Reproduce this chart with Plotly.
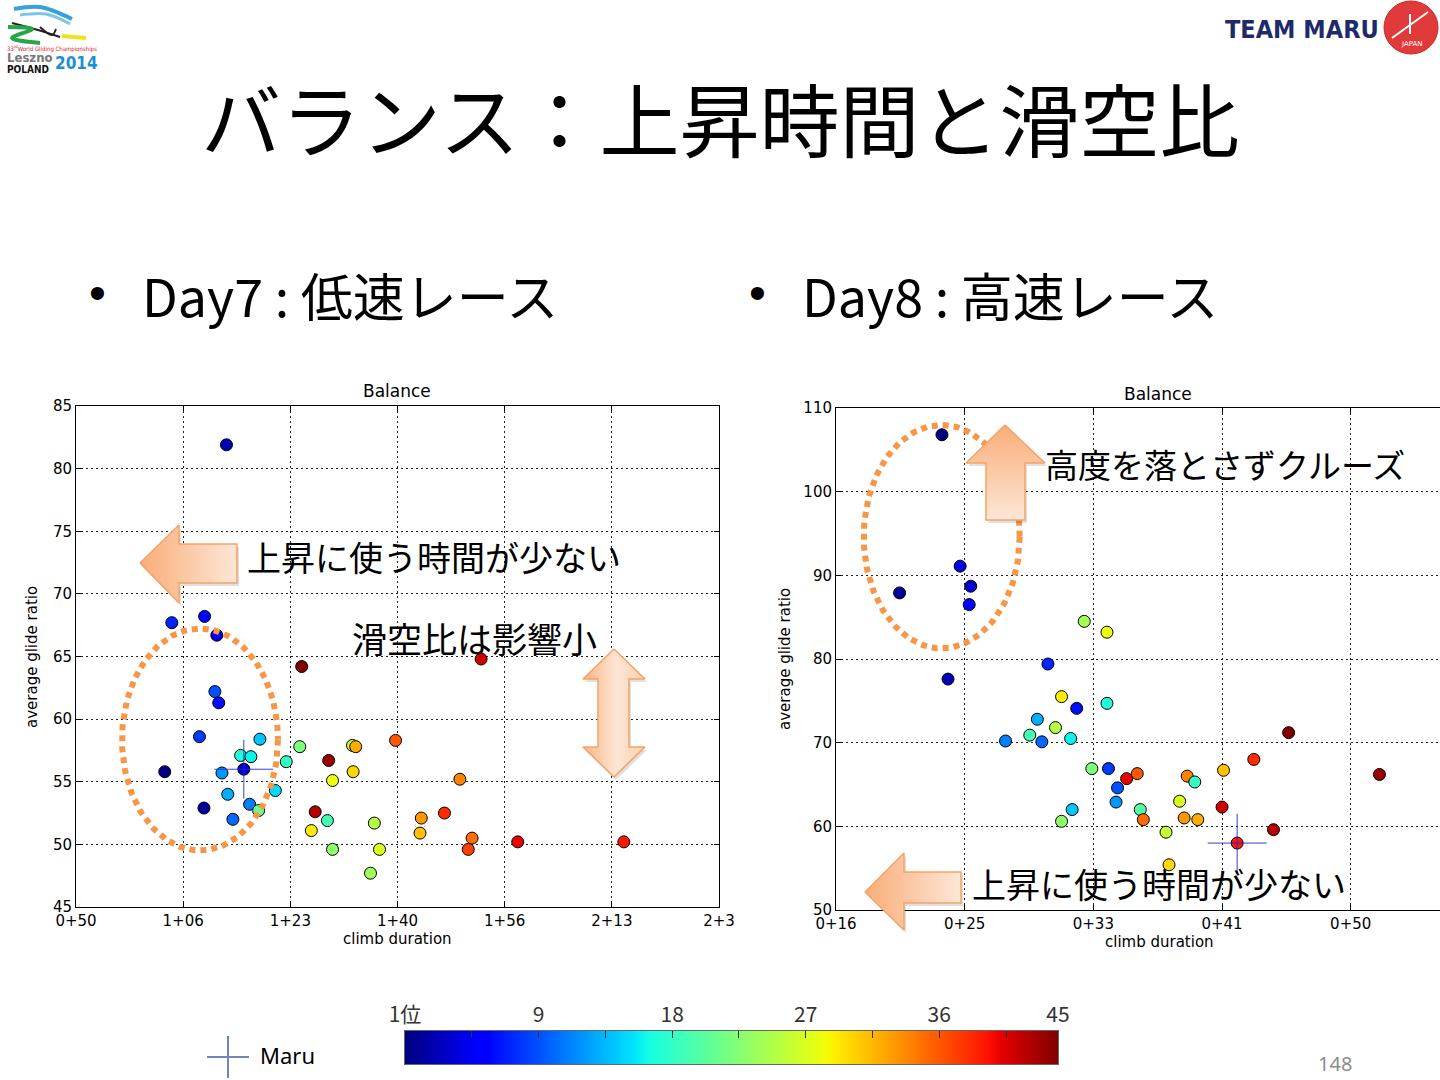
import numpy as np
import plotly.graph_objects as go

W, H = 1440, 1080
JP = "Noto Sans CJK JP"
MPL = "DejaVu Sans"

# ---- Day7: 低速レース (climb duration [min], average glide ratio, 順位) ----
day7_climb = [73.4, 64.9, 70.0, 71.9, 85.1, 71.6, 72.2, 69.2, 78.6, 84.8,
              75.6, 77.2, 82.7, 89.3, 93.0, 93.5, 99.7, 63.8, 72.7, 76.1,
              93.1, 89.9, 81.0, 73.6, 69.9, 77.0, 78.4, 74.4, 87.2, 89.1,
              86.6, 96.4, 89.9, 97.2, 95.8, 113.0, 109.7, 107.3, 103.7, 103.5,
              111.6, 111.0, 118.7, 135.2]
day7_glide = [81.9, 67.7, 68.2, 66.7, 64.2, 62.2, 61.3, 58.6, 58.4, 57.8,
              57.1, 57.0, 56.6, 56.7, 57.9, 57.8, 58.3, 55.8, 55.7, 56.0,
              55.8, 55.1, 54.3, 54.0, 52.9, 53.2, 52.7, 52.0, 52.6, 51.9,
              51.1, 51.7, 49.6, 49.6, 47.7, 64.8, 55.2, 52.5, 52.1, 50.9,
              50.5, 49.6, 50.2, 50.2]
day7_rank = [3, 8, 6, 5, 45, 10, 7, 9, 15, 23,
             18, 17, 19, 44, 27, 33, 37, 1, 13, 4,
             31, 29, 16, 14, 2, 12, 22, 11, 43, 20,
             30, 26, 24, 28, 25, 42, 35, 39, 34, 32,
             36, 38, 41, 40]

# ---- Day8: 高速レース ----
day8_climb = [23.0, 20.2, 24.2, 24.9, 24.8, 23.4, 30.0, 32.4, 33.9, 30.9,
              31.9, 33.9, 29.3, 30.5, 28.8, 27.2, 29.6, 31.5, 32.9, 34.0,
              35.2, 35.9, 34.6, 34.5, 31.6, 30.9, 36.1, 36.3, 37.8, 38.0,
              38.7, 39.0, 39.9, 39.2, 39.7, 41.6, 41.5, 43.6, 45.9, 44.9,
              42.5, 51.9]
day8_glide = [106.8, 87.9, 91.1, 88.7, 86.5, 77.6, 79.4, 84.5, 83.2, 75.5,
              74.1, 74.7, 72.8, 71.8, 70.9, 70.2, 70.1, 70.5, 66.9, 66.9,
              65.7, 66.3, 64.6, 62.9, 62.0, 60.6, 62.0, 60.8, 59.3, 55.4,
              63.0, 61.0, 60.8, 66.0, 65.3, 66.7, 62.3, 68.0, 71.2, 59.6,
              58.0, 66.2]
day8_rank = [1, 2, 5, 4, 6, 3, 8, 25, 29, 30,
             7, 18, 14, 26, 20, 12, 11, 17, 23, 9,
             41, 37, 10, 13, 15, 24, 21, 36, 27, 31,
             28, 34, 33, 35, 19, 32, 42, 39, 45, 43,
             40, 44]

# Maru の位置
maru_climb = [76.1, 42.5]
maru_glide = [56.0, 58.0]

# 軸目盛り
day7_xticks = [50, 66.667, 83.333, 100, 116.667, 133.333, 150]
day7_xlabels = ["0+50", "1+06", "1+23", "1+40", "1+56", "2+13", "2+3"]
day8_xticks = [16, 24.5, 33, 41.5, 50]
day8_xlabels = ["0+16", "0+25", "0+33", "0+41", "0+50"]

# カラーバー (順位 0..44 → 1位..45位)
cbar_ranks = list(range(0, 45))
cbar_ticks = [0, 4.5, 9, 13.5, 18, 22.5, 27, 31.5, 36, 40.5, 44]
cbar_labels = ["1位", "", "9", "", "18", "", "27", "", "36", "", "45"]

# matplotlib jet
JET = [[0.0, "rgb(0,0,128)"], [0.11, "rgb(0,0,255)"], [0.125, "rgb(0,0,255)"],
       [0.34, "rgb(0,219,255)"], [0.35, "rgb(0,229,255)"], [0.375, "rgb(21,255,226)"],
       [0.64, "rgb(239,255,8)"], [0.65, "rgb(247,246,0)"], [0.66, "rgb(255,236,0)"],
       [0.89, "rgb(255,19,0)"], [0.91, "rgb(232,0,0)"], [1.0, "rgb(128,0,0)"]]

ORANGE = "#f79646"


def dom_x(a, b):
    return [a / W, b / W]


def dom_y(top, bottom):
    return [1 - bottom / H, 1 - top / H]


fig = go.Figure()

fig.add_trace(go.Scatter(
    x=day7_climb, y=day7_glide, mode="markers", xaxis="x", yaxis="y",
    marker=dict(size=12, color=[r - 1 for r in day7_rank], colorscale=JET,
                cmin=0, cmax=44, line=dict(width=1, color="black")),
    showlegend=False, hoverinfo="skip",
))
fig.add_trace(go.Scatter(
    x=day8_climb, y=day8_glide, mode="markers", xaxis="x2", yaxis="y2",
    marker=dict(size=12, color=[r - 1 for r in day8_rank], colorscale=JET,
                cmin=0, cmax=44, line=dict(width=1, color="black")),
    showlegend=False, hoverinfo="skip",
))
for i, (ax, ay) in enumerate([("x", "y"), ("x2", "y2")]):
    fig.add_trace(go.Scatter(
        x=[maru_climb[i]], y=[maru_glide[i]], mode="markers", xaxis=ax, yaxis=ay,
        marker=dict(symbol="cross-thin", size=42,
                    line=dict(width=1, color="rgba(40,40,200,0.9)")),
        showlegend=False, hoverinfo="skip",
    ))

# カラーバー本体
fig.add_trace(go.Heatmap(
    z=[cbar_ranks], x=cbar_ranks, y=[0], xaxis="x4", yaxis="y4",
    colorscale=JET, zmin=0, zmax=44, zsmooth="best", showscale=False,
    hoverinfo="skip",
))

# ---- 装飾 (楕円・矢印) : ピクセル座標のオーバーレイ軸 x3/y3 ----
t = np.linspace(0, 2 * np.pi, 240)
for cx, cy, rx, ry in [(200, 739.5, 78, 111), (941.7, 536.7, 78, 111.7)]:
    fig.add_trace(go.Scatter(
        x=cx + rx * np.cos(t), y=cy + ry * np.sin(t), mode="lines",
        xaxis="x3", yaxis="y3",
        line=dict(color=ORANGE, width=6, dash="6px,5px"),
        showlegend=False, hoverinfo="skip",
    ))

arrows = [
    # (polygon, gradient type, start, stop)
    ([(140, 563), (179, 525), (179, 544), (237, 544), (237, 583), (179, 583), (179, 603)],
     "horizontal", 140, 237),
    ([(865, 892), (904, 853), (904, 872), (961, 872), (961, 903), (904, 903), (904, 930)],
     "horizontal", 865, 961),
    ([(1005, 425), (1045, 463), (1025, 463), (1025, 520), (986, 520), (986, 463), (966, 463)],
     "vertical", 425, 520),
    ([(614, 649), (645, 679), (629, 679), (629, 747), (645, 747), (614, 777), (583, 747),
      (598, 747), (598, 679), (583, 679)],
     "horizontal", 583, 645),
]
for poly, gtype, start, stop in arrows:
    xs = [p[0] for p in poly] + [poly[0][0]]
    ys = [p[1] for p in poly] + [poly[0][1]]
    # 影
    fig.add_trace(go.Scatter(
        x=[v + 2 for v in xs], y=[v + 3 for v in ys], mode="lines", fill="toself",
        xaxis="x3", yaxis="y3", line=dict(width=0), fillcolor="rgba(0,0,0,0.12)",
        showlegend=False, hoverinfo="skip",
    ))
    if poly[0][0] == 614:
        cs = [[0, "#f9b586"], [0.55, "#fde6d6"], [1, "#fbcfae"]]
    else:
        cs = [[0, "#f9ad78"], [1, "#fde7d7"]]
    fig.add_trace(go.Scatter(
        x=xs, y=ys, mode="lines", fill="toself", xaxis="x3", yaxis="y3",
        line=dict(color="#f6a266", width=1.5),
        fillgradient=dict(type=gtype, colorscale=cs, start=start, stop=stop),
        showlegend=False, hoverinfo="skip",
    ))

# 凡例の十字
fig.add_trace(go.Scatter(
    x=[228], y=[1057], mode="markers", xaxis="x3", yaxis="y3",
    marker=dict(symbol="cross-thin", size=30, line=dict(width=2, color="#6c87b8")),
    showlegend=False, hoverinfo="skip",
))

# 左上ロゴの線
logo_lines = [
    ([14, 40, 72], [9, 7, 19], "#35a2dc", 4),
    ([20, 46, 70], [15, 14, 24], "#7fc4ea", 3),
    ([12, 38, 60], [23, 30, 37], "#222222", 2),
    ([40, 52, 56], [27, 35, 29], "#222222", 2),
    ([8, 32, 12, 40], [27, 29, 38, 43], "#27a54a", 4),
    ([62, 86], [36, 38], "#f2e21d", 4),
]
for lx, ly, lc, lw in logo_lines:
    fig.add_trace(go.Scatter(
        x=lx, y=ly, mode="lines", xaxis="x3", yaxis="y3",
        line=dict(color=lc, width=lw, shape="spline"),
        showlegend=False, hoverinfo="skip",
    ))

axis_common = dict(
    showgrid=True, gridcolor="#222", gridwidth=1, griddash="2px,3px",
    zeroline=False, showline=True, linecolor="black", linewidth=1,
    ticks="inside", ticklen=5, tickcolor="black", automargin=False,
    tickfont=dict(family=MPL, size=15, color="black"),
)

fig.update_layout(
    width=W, height=H, margin=dict(l=0, r=0, t=0, b=0, pad=0),
    paper_bgcolor="white", plot_bgcolor="rgba(0,0,0,0)",
    showlegend=False,
    xaxis=dict(domain=dom_x(76, 719), range=[50, 150], anchor="y",
               tickvals=day7_xticks, ticktext=day7_xlabels, mirror="ticks", **axis_common),
    yaxis=dict(domain=dom_y(406, 907), range=[45, 85], anchor="x",
               dtick=5, mirror="ticks", **axis_common),
    xaxis2=dict(domain=dom_x(836, 1440), range=[16, 55.9], anchor="y2",
                tickvals=day8_xticks, ticktext=day8_xlabels, mirror="ticks", **axis_common),
    yaxis2=dict(domain=dom_y(408, 910), range=[50, 110], anchor="x2",
                dtick=10, mirror=False, **axis_common),
    xaxis3=dict(domain=[0, 1], range=[0, W], anchor="y3", visible=False,
                fixedrange=True, automargin=False),
    yaxis3=dict(domain=[0, 1], range=[H, 0], anchor="x3", visible=False,
                fixedrange=True, automargin=False),
    xaxis4=dict(domain=dom_x(405, 1058), range=[0, 44], anchor="y4", side="top",
                tickvals=cbar_ticks, ticktext=cbar_labels, ticks="inside", ticklen=7,
                tickcolor="#333", showline=True, mirror=True, linecolor="#666",
                showgrid=False, zeroline=False, automargin=False,
                tickfont=dict(family=JP, size=21, color="#333")),
    yaxis4=dict(domain=dom_y(1031, 1064), range=[-0.5, 0.5], anchor="x4",
                showline=True, mirror=True, linecolor="#666", showgrid=False,
                zeroline=False, showticklabels=False, ticks="", automargin=False),
)


def text(x, y, s, size, family=JP, color="black", xanchor="center", angle=0, bold=False):
    fig.add_annotation(
        x=x, y=y, xref="x3", yref="y3", text=f"<b>{s}</b>" if bold else s,
        showarrow=False, xanchor=xanchor, yanchor="middle", textangle=angle,
        font=dict(family=family, size=size, color=color),
    )


# タイトル・見出し
text(720, 116, "バランス：上昇時間と滑空比", 80)
text(97, 292, "•", 48, family="Liberation Sans")
text(140, 294, "Day7 : 低速レース", 52, xanchor="left")
text(757, 292, "•", 48, family="Liberation Sans")
text(800, 294, "Day8 : 高速レース", 52, xanchor="left")

# 各グラフのラベル
text(397, 391, "Balance", 17, family=MPL)
text(397, 939, "climb duration", 15, family=MPL)
text(32, 657, "average glide ratio", 15, family=MPL, angle=-90)
text(1158, 394, "Balance", 17, family=MPL)
text(1159, 942, "climb duration", 15, family=MPL)
text(785, 659, "average glide ratio", 15, family=MPL, angle=-90)

# コメント
text(245, 556, "上昇に使う時間が少ない", 34, xanchor="left")
text(350, 637, "滑空比は影響小", 35, xanchor="left")
text(1043, 464, "高度を落とさずクルーズ", 33, xanchor="left")
text(970, 883, "上昇に使う時間が少ない", 34, xanchor="left")

# 凡例・ページ番号
text(258, 1055, "Maru", 22, family="Noto Sans", xanchor="left")
text(1335, 1063, "148", 20, family="Noto Sans", color="#8c8c8c")

# ロゴ
text(5, 48, "33<sup>rd</sup>World Gliding Championships", 6, family="DejaVu Sans Condensed",
     color="#d6202a", xanchor="left")
text(5, 57, "Leszno", 13, family="DejaVu Sans Condensed", color="#777", xanchor="left", bold=True)
text(5, 69, "POLAND", 10, family="DejaVu Sans Condensed", color="#111", xanchor="left", bold=True)
text(53, 63, "2014", 17, family="DejaVu Sans Condensed", color="#1b8fd6", xanchor="left", bold=True)
text(1381, 29, "TEAM MARU", 25, family="DejaVu Sans Condensed", color="#1e2a6b",
     xanchor="right", bold=True)
fig.add_shape(type="circle", xref="x3", yref="y3", x0=1384, x1=1438, y0=1, y1=54,
              fillcolor="#e03a3a", line=dict(color="#c92a2a", width=1))
fig.add_shape(type="line", xref="x3", yref="y3", x0=1392, y0=38, x1=1428, y1=12,
              line=dict(color="white", width=2))
fig.add_shape(type="line", xref="x3", yref="y3", x0=1410, y0=14, x1=1410, y1=34,
              line=dict(color="white", width=2))
text(1412, 44, "JAPAN", 7, family="DejaVu Sans", color="white")

# ページ余白を消してスライドと同じ位置に置く
fig.write_html("out.html", config={"displayModeBar": False},
               post_script="document.body.style.margin='0';document.body.style.overflow='hidden';")
